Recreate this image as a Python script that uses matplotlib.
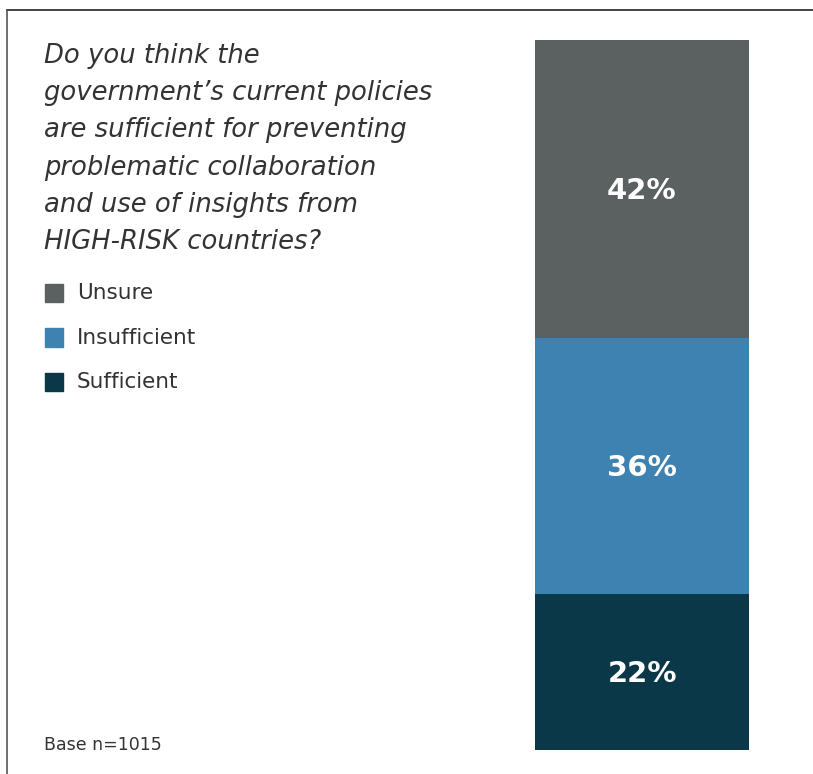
import matplotlib
matplotlib.use("Agg")
import matplotlib.pyplot as plt
from matplotlib.lines import Line2D
from matplotlib.patches import Rectangle

categories = ["Sufficient", "Insufficient", "Unsure"]
values = [22, 36, 42]
colors = ["#0A3848", "#3D82B0", "#5B6160"]
legend_order = ["Unsure", "Insufficient", "Sufficient"]
title = ("Do you think the\ngovernment\u2019s current policies\nare sufficient for preventing\n"
         "problematic collaboration\nand use of insights from\nHIGH-RISK countries?")
base_note = "Base n=1015"

W, H = 813, 774
fig = plt.figure(figsize=(W / 100, H / 100), dpi=100)
fig.patch.set_facecolor("white")

def fx(px):
    return px / W

def fy(py):
    return 1 - py / H

# frame lines (top and left)
fig.add_artist(Line2D([fx(7), 1], [fy(10), fy(10)], color="#222222", lw=1.2))
fig.add_artist(Line2D([fx(7), fx(7)], [fy(10), 0], color="#555555", lw=1.2))

# bar axes
ax = fig.add_axes([fx(535), fy(750), fx(749) - fx(535), (750 - 40) / H])
bottom = 0
for cat, v, c in zip(categories, values, colors):
    ax.bar(0, v, bottom=bottom, width=1, color=c, edgecolor="none")
    ax.annotate(f"{v}%", (0, bottom + v / 2), xytext=(0, -2), textcoords="offset pixels",
                ha="center", va="center", color="white",
                fontsize=21, fontweight="bold", family="DejaVu Sans")
    bottom += v
ax.set_xlim(-0.5, 0.5)
ax.set_ylim(0, 100)
ax.axis("off")

# title
fig.text(fx(44), fy(43), title, ha="left", va="top", fontsize=18.6, style="italic",
         family="DejaVu Sans", color="#333333", linespacing=1.56)

# legend
color_map = dict(zip(categories, colors))
for i, lab in enumerate(legend_order):
    yc = 293 + i * 44.5
    fig.add_artist(Rectangle((fx(45), fy(yc + 9)), fx(18), 18 / H, color=color_map[lab],
                             transform=fig.transFigure))
    fig.text(fx(77), fy(yc), lab, ha="left", va="center", fontsize=15.5,
             family="DejaVu Sans", color="#333333")

fig.text(fx(44), fy(745), base_note, ha="left", va="center", fontsize=12.5,
         family="DejaVu Sans", color="#333333")

fig.savefig("out.png", dpi=100)
